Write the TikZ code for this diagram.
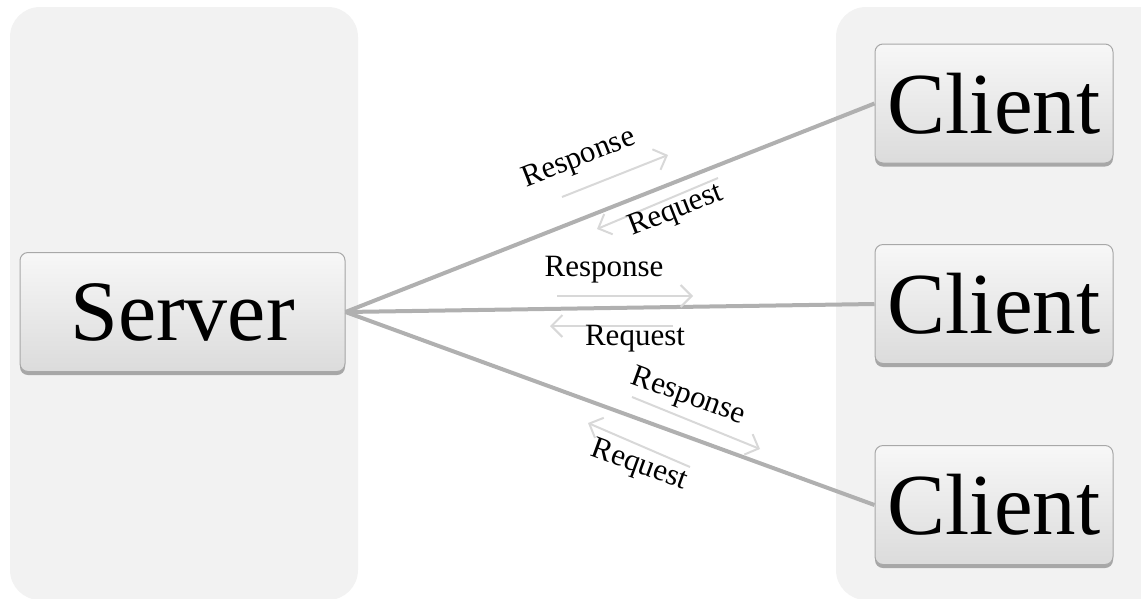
\documentclass[tikz,border=0pt]{standalone}
\usepackage{fontspec}
\setmainfont{Liberation Serif}
\usetikzlibrary{shadows,arrows.meta}
\definecolor{panelgray}{HTML}{F2F2F2}
\definecolor{linkgray}{HTML}{B0B0B0}
\definecolor{arrowgray}{HTML}{D8D8D8}
\definecolor{boxedge}{HTML}{A8A8A8}
\tikzset{
  panel/.style={fill=panelgray, draw=none, rounded corners=30pt},
  hostbox/.style={draw=boxedge, line width=1pt, rounded corners=8pt,
    top color=white!97!black, bottom color=white!86!black,
    inner sep=0pt, minimum height=119pt,
    drop shadow={shadow xshift=0pt, shadow yshift=-3.5pt, opacity=0.45, fill=black!70}},
  servertext/.style={font=\fontsize{86}{94}\selectfont},
  clienttext/.style={font=\fontsize{87}{95}\selectfont},
  link/.style={draw=linkgray, line width=4pt},
  flow/.style={draw=arrowgray, line width=2pt, -{Straight Barb[length=11pt, width=22pt, line width=2pt]}},
  flowlabel/.style={font=\fontsize{31}{34}\selectfont, inner sep=0pt}
}
\begin{document}
\begin{tikzpicture}[x=1pt, y=-1pt]
  \useasboundingbox (0,0) rectangle (1141,598);
  % background panels
  \path[panel] (10,7) rectangle (358,600);
  \path[panel] (836,7) rectangle (1180,600);

  % hosts
  \node[hostbox, servertext, minimum width=325pt] (srv) at (182.5,312) {Server};
  \node[hostbox, clienttext, minimum width=238pt] (c1) at (994,103.5) {Client};
  \node[hostbox, clienttext, minimum width=238pt] (c2) at (994,304) {Client};
  \node[hostbox, clienttext, minimum width=238pt] (c3) at (994,505) {Client};

  % links
  \draw[link] (srv.east) -- (c1.west);
  \draw[link] (srv.east) -- (c2.west);
  \draw[link] (srv.east) -- (c3.west);

  % upper link traffic
  \coordinate (a1s) at (562,197); \coordinate (a1e) at (668,155);
  \coordinate (b1s) at (718,178); \coordinate (b1e) at (597,229);
  \draw[flow] (a1s) -- (a1e);
  \draw[flow] (b1s) -- (b1e);
  \node[flowlabel, rotate=21.4] (r1) at (579,159) {Response};
  \node[flowlabel, rotate=21.4] (q1) at (676,211) {Request};

  % middle link traffic
  \coordinate (a2s) at (557,296); \coordinate (a2e) at (693,296);
  \coordinate (b2s) at (673,326); \coordinate (b2e) at (550,326);
  \draw[flow] (a2s) -- (a2e);
  \draw[flow] (b2s) -- (b2e);
  \node[flowlabel] (r2) at (604,270) {Response};
  \node[flowlabel] (q2) at (635,339) {Request};

  % lower link traffic
  \coordinate (a3s) at (632,397); \coordinate (a3e) at (760,449);
  \coordinate (b3s) at (690,467); \coordinate (b3e) at (588,423);
  \draw[flow] (a3s) -- (a3e);
  \draw[flow] (b3s) -- (b3e);
  \node[flowlabel, rotate=-20] (r3) at (688,397) {Response};
  \node[flowlabel, rotate=-20] (q3) at (639,466) {Request};
\end{tikzpicture}
\end{document}
